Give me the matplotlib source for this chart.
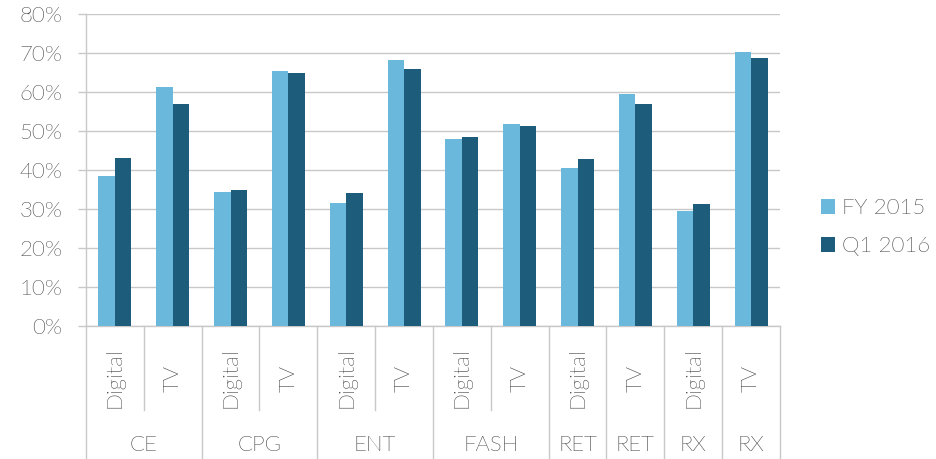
import numpy as np
import matplotlib
matplotlib.use('Agg')
import matplotlib.pyplot as plt
import matplotlib.transforms as mtransforms
from matplotlib import font_manager

plt.rcParams['font.family'] = ['Lato', 'DejaVu Sans']

# pick the Lato Light file explicitly (avoid Hairline / Thin)
light_file = None
for f in font_manager.fontManager.ttflist:
    base = f.fname.split('/')[-1].lower()
    if f.name == 'Lato' and 'light' in base and 'italic' not in base:
        light_file = f.fname
        break
if light_file:
    fp = font_manager.FontProperties(fname=light_file, size=16)
else:
    fp = font_manager.FontProperties(family='Lato', weight='light', size=16)

# Data
groups = ['CE', 'CE', 'CPG', 'CPG', 'ENT', 'ENT', 'FASH', 'FASH', 'RET', 'RET', 'RX', 'RX']
channels = ['Digital', 'TV'] * 6
fy2015 = [38.5, 61.2, 34.4, 65.4, 31.6, 68.1, 48.0, 51.9, 40.4, 59.4, 29.5, 70.3]
q1_2016 = [43.2, 56.8, 35.0, 64.9, 34.0, 65.8, 48.5, 51.4, 42.8, 57.0, 31.4, 68.6]
# group labels shown on the lower tier (RET and RX are split per channel)
group_labels = [('CE', 0, 1), ('CPG', 2, 3), ('ENT', 4, 5), ('FASH', 6, 7),
                ('RET', 8, 8), ('RET', 9, 9), ('RX', 10, 10), ('RX', 11, 11)]
# positions of the full-height separators (others stop under the channel labels)
full_seps = [0, 2, 4, 6, 8, 9, 10, 11, 12]

light = '#6BB8DD'
dark = '#1D5C7A'
text_col = '#404040'
grid_col = '#C8C8C8'

fig = plt.figure(figsize=(9.37, 4.59), dpi=100)
ax = fig.add_axes([86 / 937, 1 - 326 / 459, 694 / 937, 312 / 459])

x = np.arange(len(channels))
w = 0.285
ax.bar(x - w / 2, fy2015, w, color=light, label='FY 2015', zorder=3)
ax.bar(x + w / 2, q1_2016, w, color=dark, label='Q1 2016', zorder=3)

ax.set_xlim(-0.5, len(channels) - 0.5)
ax.set_ylim(0, 80)
ax.set_yticks(np.arange(0, 81, 10))
ax.set_yticklabels([f'{v}%' for v in range(0, 81, 10)], color=text_col)
for t in ax.get_yticklabels():
    t.set_fontproperties(fp)
ax.tick_params(axis='y', length=6, width=1, color=grid_col, pad=11)
ax.set_xticks([])
ax.yaxis.grid(True, color=grid_col, linewidth=1.0, zorder=0)

for s in ['top', 'right']:
    ax.spines[s].set_visible(False)
for s in ['left', 'bottom']:
    ax.spines[s].set_color(grid_col)
    ax.spines[s].set_linewidth(1.0)

# multi-level category axis
trans = mtransforms.blended_transform_factory(ax.transData, ax.transAxes)
bottom_y = -(459 - 326) / 312
mid_y = -(410 - 326) / 312
for i in range(len(channels) + 1):
    y_end = bottom_y if i in full_seps else mid_y
    ax.plot([i - 0.5, i - 0.5], [0, y_end], transform=trans, color=grid_col,
            linewidth=1.0, clip_on=False)

for i, ch in enumerate(channels):
    ax.text(i, -52 / 312, ch, transform=trans, rotation=90, ha='center',
            va='center', fontproperties=fp, color=text_col)

for name, a, b in group_labels:
    ax.text((a + b) / 2, -119 / 312, name, transform=trans, ha='center',
            va='center', fontproperties=fp, color=text_col)

leg = fig.legend(loc='center left', bbox_to_anchor=(821 / 937, 1 - 227 / 459),
                 frameon=False, prop=fp, handlelength=0.65, handleheight=0.65,
                 handletextpad=0.3, labelspacing=0.8, borderpad=0, borderaxespad=0)
for t in leg.get_texts():
    t.set_color(text_col)

fig.savefig('out.png', dpi=100)
